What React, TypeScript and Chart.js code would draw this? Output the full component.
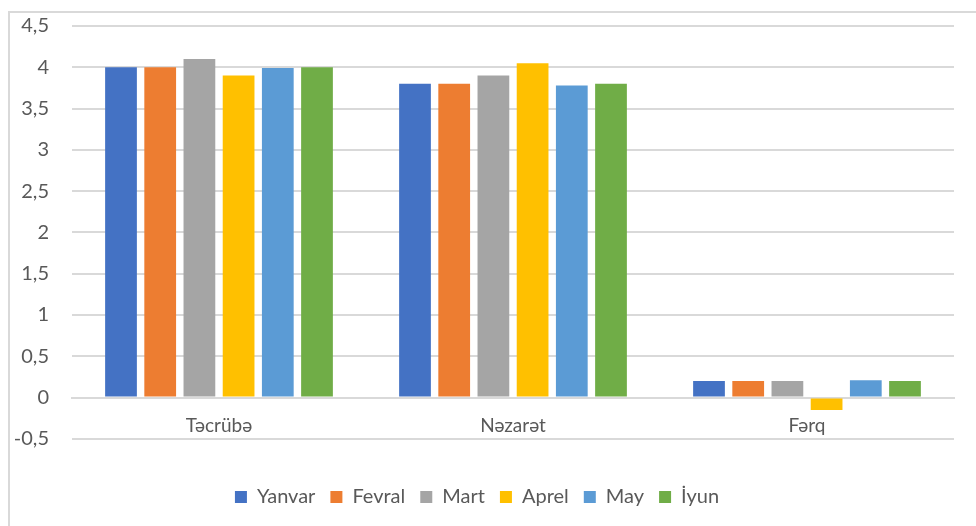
import React, { useEffect, useRef } from "react";
import { Chart, registerables } from "chart.js";

Chart.register(...registerables);

const categories = ["Təcrübə", "Nəzarət", "Fərq"];
const seriesNames = ["Yanvar", "Fevral", "Mart", "Aprel", "May", "İyun"];
const yanvar = [4.0, 3.8, 0.2];
const fevral = [4.0, 3.8, 0.2];
const mart = [4.1, 3.9, 0.2];
const aprel = [3.9, 4.05, -0.15];
const may = [3.99, 3.78, 0.21];
const iyun = [4.0, 3.8, 0.2];
const seriesValues = [yanvar, fevral, mart, aprel, may, iyun];
const colors = ["#4472C4", "#ED7D31", "#A5A5A5", "#FFC000", "#5B9BD5", "#70AD47"];
const yMin = -0.5;
const yMax = 4.5;
const yStep = 0.5;

const FONT = "Lato, sans-serif";
const TEXT = "#595959";
const GRID = "#d9d9d9";

export default function App() {
  const ref = useRef<HTMLCanvasElement | null>(null);

  useEffect(() => {
    if (!ref.current) return;
    const chart = new Chart(ref.current, {
      type: "bar",
      data: {
        labels: categories,
        datasets: seriesNames.map((name, i) => ({
          label: name,
          data: seriesValues[i],
          backgroundColor: colors[i],
          borderWidth: 0,
          categoryPercentage: 0.8,
          barPercentage: 0.81,
        })),
      },
      options: {
        animation: false,
        responsive: false,
        maintainAspectRatio: false,
        layout: { padding: { top: 26, right: 22, left: 0, bottom: 9 } },
        scales: {
          x: {
            type: "category",
            position: { y: 0 },
            grid: { display: false, drawTicks: false },
            border: { display: true, color: GRID, width: 2 },
            ticks: {
              color: TEXT,
              font: { family: FONT, size: 19 },
              padding: 17,
              maxRotation: 0,
            },
          },
          y: {
            min: yMin,
            max: yMax,
            afterFit: (scale: any) => {
              scale.width = 72;
              scale.paddingTop = 0;
            },
            grid: { color: GRID, lineWidth: 2, drawTicks: false },
            border: { display: false },
            ticks: {
              stepSize: yStep,
              color: TEXT,
              padding: 23,
              font: { family: FONT, size: 20 },
              callback: (v: any) => String(Number(v).toFixed(1)).replace(/\.0$/, "").replace(".", ","),
            },
          },
        },
        plugins: {
          legend: {
            position: "bottom",
            title: { display: true, text: " ", font: { size: 1 }, padding: { top: 0, bottom: 32 } },
            labels: {
              boxWidth: 12,
              boxHeight: 12,
              padding: 15,
              color: TEXT,
              font: { family: FONT, size: 20 },
            },
          },
          tooltip: { enabled: false },
        },
      },
    });
    return () => chart.destroy();
  }, []);

  return (
    <div style={{ position: "fixed", left: 0, top: 0, width: 976, height: 526, background: "#fff" }}>
      <div
        style={{
          position: "absolute",
          left: 8,
          top: 11,
          width: 1000,
          height: 600,
          borderLeft: `2px solid ${GRID}`,
          borderTop: `2px solid ${GRID}`,
          boxSizing: "border-box",
        }}
      />
      <canvas ref={ref} width={976} height={526} style={{ position: "absolute", left: 0, top: 0 }} />
    </div>
  );
}
